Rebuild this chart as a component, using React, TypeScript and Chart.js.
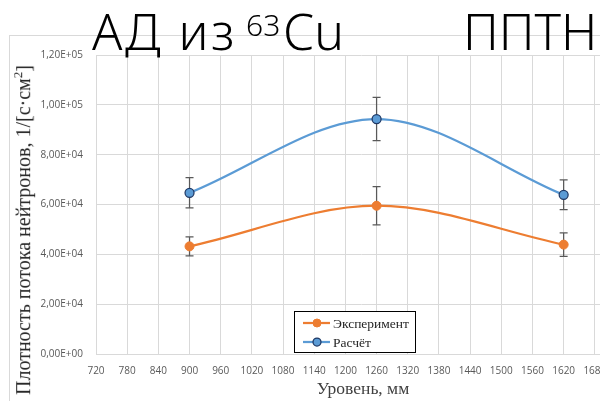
import React, { useEffect, useRef } from "react";
import { Chart, registerables } from "chart.js";

Chart.register(...registerables);

// ---- data ----
const levels = [900, 1260, 1620];
const experiment = [43200, 59500, 43900];
const experimentErr = [3800, 7700, 4700];
const calculation = [64700, 94300, 63900];
const calculationErr = [6100, 8700, 6000];
const seriesNames = ["Эксперимент", "Расчёт"];
const xMin = 720;
const xMax = 1740;
const xStep = 60;
const yMin = 0;
const yMax = 120000;
const yStep = 20000;
const xTitle = "Уровень, мм";
const yTitle = "Плотность потока нейтронов, 1/[с·см";
const titleLeft = "АД из";
const titleSup = "63";
const titleElem = "Cu";
const titleRight = "ППТН";

const ORANGE = "#ED7D31";
const BLUE = "#5B9BD5";
const NAVY = "#1F3864";
const GRID = "#D9D9D9";
const TICK = "#595959";

function sci(v: number): string {
  if (v === 0) return "0,00E+00";
  const e = Math.floor(Math.log10(Math.abs(v)) + 1e-9);
  const m = v / Math.pow(10, e);
  return m.toFixed(2).replace(".", ",") + "E+" + String(e).padStart(2, "0");
}

const errorBars = {
  id: "errorBars",
  beforeDatasetsDraw(chart: any) {
    const ctx = chart.ctx;
    const xs = chart.scales.x;
    const ys = chart.scales.y;
    chart.data.datasets.forEach((ds: any) => {
      const errs = ds.errors;
      if (!errs) return;
      ds.data.forEach((p: any, i: number) => {
        const x = xs.getPixelForValue(p.x);
        const yT = ys.getPixelForValue(p.y + errs[i]);
        const yB = ys.getPixelForValue(p.y - errs[i]);
        ctx.save();
        ctx.strokeStyle = "#595959";
        ctx.lineWidth = 1.25;
        ctx.beginPath();
        ctx.moveTo(x, yT);
        ctx.lineTo(x, yB);
        ctx.moveTo(x - 4, yT);
        ctx.lineTo(x + 4, yT);
        ctx.moveTo(x - 4, yB);
        ctx.lineTo(x + 4, yB);
        ctx.stroke();
        ctx.restore();
      });
    });
  },
};

const boxLegend = {
  id: "boxLegend",
  afterDraw(chart: any) {
    const ctx = chart.ctx;
    const a = chart.chartArea;
    const bx = a.left + 198;
    const by = a.bottom - 43;
    const bw = 121;
    const bh = 41;
    ctx.save();
    ctx.fillStyle = "#ffffff";
    ctx.fillRect(bx, by, bw, bh);
    ctx.strokeStyle = "#000000";
    ctx.lineWidth = 1;
    ctx.strokeRect(bx + 0.5, by + 0.5, bw, bh);
    chart.data.datasets.forEach((ds: any, i: number) => {
      const cy = by + 12 + i * 19;
      ctx.strokeStyle = ds.borderColor;
      ctx.lineWidth = 2.25;
      ctx.beginPath();
      ctx.moveTo(bx + 9, cy);
      ctx.lineTo(bx + 36, cy);
      ctx.stroke();
      ctx.beginPath();
      ctx.arc(bx + 23, cy, 4, 0, Math.PI * 2);
      ctx.fillStyle = ds.pointBackgroundColor;
      ctx.fill();
      ctx.strokeStyle = ds.pointBorderColor;
      ctx.lineWidth = ds.pointBorderWidth;
      ctx.stroke();
      ctx.fillStyle = "#262626";
      ctx.font = "13.5px 'Liberation Serif'";
      ctx.textBaseline = "middle";
      ctx.textAlign = "left";
      ctx.fillText(ds.label, bx + 39, cy + 1);
    });
    ctx.restore();
  },
};

export default function App() {
  const ref = useRef<HTMLCanvasElement | null>(null);

  useEffect(() => {
    document.body.style.margin = "0";
    document.body.style.overflow = "hidden";
    if (!ref.current) return;
    const chart = new Chart(ref.current, {
      type: "line",
      data: {
        datasets: [
          {
            label: seriesNames[0],
            data: levels.map((x, i) => ({ x, y: experiment[i] })),
            errors: experimentErr,
            borderColor: ORANGE,
            backgroundColor: ORANGE,
            pointBackgroundColor: ORANGE,
            pointBorderColor: ORANGE,
            pointBorderWidth: 1,
            borderWidth: 2.25,
            pointRadius: 4.5,
            cubicInterpolationMode: "monotone",
          } as any,
          {
            label: seriesNames[1],
            data: levels.map((x, i) => ({ x, y: calculation[i] })),
            errors: calculationErr,
            borderColor: BLUE,
            backgroundColor: BLUE,
            pointBackgroundColor: BLUE,
            pointBorderColor: NAVY,
            pointBorderWidth: 1.25,
            borderWidth: 2.25,
            pointRadius: 4.5,
            cubicInterpolationMode: "monotone",
          } as any,
        ],
      },
      options: {
        animation: false,
        responsive: false,
        devicePixelRatio: 1,
        layout: { padding: { left: 0, right: 34, top: 55, bottom: 0 } },
        plugins: { legend: { display: false }, tooltip: { enabled: false } },
        scales: {
          x: {
            type: "linear",
            min: xMin,
            max: xMax,
            afterFit: (s: any) => {
              s.height = 66;
            },
            ticks: {
              stepSize: xStep,
              autoSkip: false,
              maxRotation: 0,
              padding: 11,
              color: TICK,
              font: { family: "'Open Sans'", size: 10 },
              callback: (v: any) => String(v),
            },
            grid: { color: GRID, drawTicks: false, lineWidth: 1 },
            border: { color: GRID },
          },
          y: {
            min: yMin,
            max: yMax,
            afterFit: (s: any) => {
              s.width = 96;
            },
            ticks: {
              stepSize: yStep,
              padding: 13,
              color: TICK,
              font: { family: "'Open Sans'", size: 10 },
              callback: (v: any) => sci(Number(v)),
            },
            grid: { color: GRID, drawTicks: false, lineWidth: 1 },
            border: { color: GRID },
          },
        },
      } as any,
      plugins: [errorBars, boxLegend],
    });
    return () => chart.destroy();
  }, []);

  const titleFont: React.CSSProperties = {
    position: "absolute",
    fontFamily: "'Noto Sans'",
    fontWeight: 300,
    color: "#000",
    lineHeight: 1,
    whiteSpace: "nowrap",
    margin: 0,
  };

  return (
    <div
      style={{
        position: "relative",
        width: 600,
        height: 401,
        overflow: "hidden",
        background: "#fff",
      }}
    >
      <div
        style={{
          position: "absolute",
          left: 9,
          top: 35,
          width: 700,
          height: 500,
          border: "1px solid " + GRID,
        }}
      />
      <canvas
        ref={ref}
        width={660}
        height={420}
        style={{ position: "absolute", left: 0, top: 0, width: 660, height: 420 }}
      />
      <div
        style={{
          position: "absolute",
          left: 22,
          top: 230,
          transform: "translate(-50%, -50%) rotate(-90deg)",
          fontFamily: "'Liberation Serif'",
          fontSize: 20,
          color: "#262626",
          whiteSpace: "nowrap",
          lineHeight: 1,
        }}
      >
        {yTitle}
        <sup style={{ fontSize: 13 }}>2</sup>]
      </div>
      <div
        style={{
          position: "absolute",
          left: 363,
          top: 389,
          transform: "translate(-50%, -50%)",
          fontFamily: "'Liberation Serif'",
          fontSize: 17.5,
          color: "#404040",
          whiteSpace: "nowrap",
          lineHeight: 1,
        }}
      >
        {xTitle}
      </div>
      <div style={{ ...titleFont, left: 92, top: 6, fontSize: 50, letterSpacing: 2.5 }}>{titleLeft}</div>
      <div style={{ ...titleFont, left: 246, top: 10, fontSize: 30 }}>{titleSup}</div>
      <div style={{ ...titleFont, left: 283, top: 6, fontSize: 50 }}>{titleElem}</div>
      <div style={{ ...titleFont, left: 463, top: 6, fontSize: 50 }}>{titleRight}</div>
    </div>
  );
}
